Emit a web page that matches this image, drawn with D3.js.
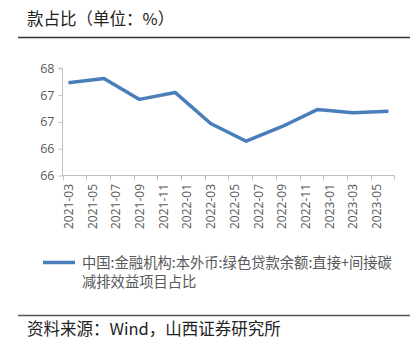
<!DOCTYPE html>
<html><head><meta charset="utf-8">
<script src="https://cdn.jsdelivr.net/npm/d3@7"></script>
<style>body{margin:0;background:#fff;}svg{display:block;}</style>
</head><body>
<svg id="c" width="413" height="339"></svg>
<script>
const title = "款占比（单位：%）";
const seriesName1 = "中国:金融机构:本外币:绿色贷款余额:直接+间接碳";
const seriesName2 = "减排效益项目占比";
const source = "资料来源：Wind，山西证券研究所";
const dates = ["2021-03","2021-06","2021-09","2021-12","2022-03","2022-06","2022-09","2022-12","2023-03","2023-06"];
const values = [67.73,67.81,67.42,67.55,66.97,66.64,66.91,67.23,67.17,67.20];
const xTickLabels = ["2021-03","2021-05","2021-07","2021-09","2021-11","2022-01","2022-03","2022-05","2022-07","2022-09","2022-11","2023-01","2023-03","2023-05"];
const yTicks = [66,66.5,67,67.5,68];
const yTickLabels = ["66","66","67","67","68"];

const svg = d3.select("#c");
const fmt = d3.utcFormat("%Y-%m");
const parse = d3.utcParse("%Y-%m");
const months = d3.utcMonth.range(parse("2021-03"), parse("2023-07")).map(fmt);

const x = d3.scaleBand().domain(months).range([62.5, 394.3]);
const y = d3.scaleLinear().domain([66, 68]).range([175.5, 68.3]);
const axisColor = "#bfbfbf";
const textColor = "#595959";

// title
svg.append("text").attr("x", 27).attr("y", 24.5).attr("font-family", "Noto Sans CJK SC")
  .attr("font-size", 16.5).attr("fill", "#222").text(title);
svg.append("line").attr("x1", 18).attr("x2", 410).attr("y1", 37.5).attr("y2", 37.5)
  .attr("stroke", "#333").attr("stroke-width", 1.3);

// y axis
const yAxis = d3.axisLeft(y).tickValues(yTicks).tickSize(4).tickPadding(4)
  .tickFormat((d, i) => yTickLabels[i]);
const gy = svg.append("g").attr("transform", "translate(62.5,0)").call(yAxis);
gy.select(".domain").attr("stroke", axisColor).attr("d", `M-4,${y(68)}H0V${y(66)}`);
gy.selectAll(".tick line").attr("stroke", axisColor);
gy.selectAll(".tick text").attr("fill", textColor).attr("font-family", "Open Sans")
  .attr("font-size", 12.5);

// x axis
const xg = svg.append("g");
xg.append("line").attr("x1", 62.5).attr("x2", 394.3).attr("y1", 175.5).attr("y2", 175.5)
  .attr("stroke", axisColor);
const tickMonths = months.filter((m, i) => i % 2 === 0);
xg.selectAll("line.tk").data(tickMonths.concat([null])).join("line").attr("class", "tk")
  .attr("x1", d => d ? Math.round(x(d)) + 0.5 : 394.3).attr("x2", d => d ? Math.round(x(d)) + 0.5 : 394.3)
  .attr("y1", 175.5).attr("y2", 180.5).attr("stroke", axisColor);
xg.selectAll("text").data(xTickLabels).join("text")
  .attr("transform", d => `translate(${x(d) + x.bandwidth() / 2 + 4.5},184) rotate(-90)`)
  .attr("text-anchor", "end").attr("fill", textColor).attr("font-family", "Open Sans")
  .attr("font-size", 12).text(d => d);

// line
const line = d3.line().x(d => x(d[0]) + x.bandwidth() / 2).y(d => y(d[1]));
svg.append("path").datum(dates.map((d, i) => [d, values[i]])).attr("d", line)
  .attr("fill", "none").attr("stroke", "#4a7ebb").attr("stroke-width", 3.5)
  .attr("stroke-linejoin", "round");

// legend
svg.append("line").attr("x1", 43).attr("x2", 75).attr("y1", 262.5).attr("y2", 262.5)
  .attr("stroke", "#4a7ebb").attr("stroke-width", 3.5);
const lg = svg.append("text").attr("font-family", "Noto Sans CJK SC").attr("font-size", 14.3)
  .attr("fill", textColor);
lg.append("tspan").attr("x", 82).attr("y", 267.5).text(seriesName1);
lg.append("tspan").attr("x", 82).attr("y", 287).text(seriesName2);

// source
svg.append("line").attr("x1", 18).attr("x2", 410).attr("y1", 315.5).attr("y2", 315.5)
  .attr("stroke", "#555").attr("stroke-width", 1.3);
svg.append("text").attr("x", 27).attr("y", 334.5).attr("font-family", "Noto Sans CJK SC")
  .attr("font-size", 16.5).attr("fill", "#222").text(source);
</script>
</body></html>
